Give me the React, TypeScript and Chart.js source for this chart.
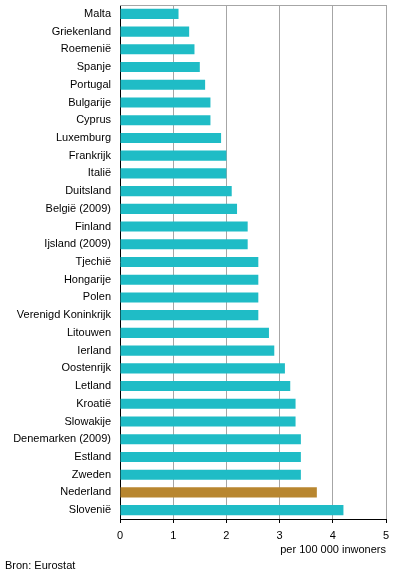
import React, { useEffect, useRef } from "react";
import { Chart, registerables } from "chart.js";

Chart.register(...registerables);

const categories = [
  "Malta", "Griekenland", "Roemenië", "Spanje", "Portugal", "Bulgarije", "Cyprus",
  "Luxemburg", "Frankrijk", "Italië", "Duitsland", "België (2009)", "Finland",
  "Ijsland (2009)", "Tjechië", "Hongarije", "Polen", "Verenigd Koninkrijk",
  "Litouwen", "Ierland", "Oostenrijk", "Letland", "Kroatië", "Slowakije",
  "Denemarken (2009)", "Estland", "Zweden", "Nederland", "Slovenië",
];
const values = [
  1.1, 1.3, 1.4, 1.5, 1.6, 1.7, 1.7, 1.9, 2.0, 2.0, 2.1, 2.2, 2.4, 2.4, 2.6,
  2.6, 2.6, 2.6, 2.8, 2.9, 3.1, 3.2, 3.3, 3.3, 3.4, 3.4, 3.4, 3.7, 4.2,
];
const highlight = "Nederland";
const xTicks = [0, 1, 2, 3, 4, 5];
const unitLabel = "per 100 000 inwoners";
const sourceLabel = "Bron: Eurostat";

const TEAL = "#1FBCC6";
const BROWN = "#B8862F";
const GRID = "#A6A6A6";
const FONT = "'Liberation Sans', Arial, sans-serif";

export default function App() {
  const ref = useRef<HTMLCanvasElement | null>(null);
  useEffect(() => {
    document.body.style.margin = "0";
    const canvas = ref.current;
    if (!canvas) return;
    const topLine = {
      id: "topLine",
      beforeDatasetsDraw(chart: any) {
        const { ctx, chartArea } = chart;
        ctx.save();
        ctx.strokeStyle = GRID;
        ctx.lineWidth = 1;
        ctx.beginPath();
        ctx.moveTo(chartArea.left, Math.round(chartArea.top) + 0.5);
        ctx.lineTo(chartArea.right, Math.round(chartArea.top) + 0.5);
        ctx.stroke();
        ctx.restore();
      },
    };
    const chart = new Chart(canvas, {
      type: "bar",
      data: {
        labels: categories,
        datasets: [
          {
            data: values,
            backgroundColor: categories.map((c) => (c === highlight ? BROWN : TEAL)),
            borderWidth: 0,
            categoryPercentage: 1,
            barPercentage: 0.57,
          },
        ],
      },
      options: {
        indexAxis: "y",
        animation: false,
        responsive: false,
        maintainAspectRatio: false,
        layout: { padding: { top: 5, right: 10, left: 0, bottom: 23 } },
        plugins: { legend: { display: false }, tooltip: { enabled: false } },
        scales: {
          x: {
            min: 0,
            max: 5,
            afterBuildTicks: (scale: any) => {
              scale.ticks = xTicks.map((v) => ({ value: v }));
            },
            afterFit: (scale: any) => {
              scale.height = 38;
              scale.paddingLeft = 0;
              scale.paddingRight = 0;
            },
            grid: { color: GRID, lineWidth: 1, tickLength: 4, drawTicks: true, tickColor: "#000" },
            border: { display: true, color: "#000", width: 1 },
            ticks: { color: "#000", font: { family: FONT, size: 11 }, padding: 6, maxRotation: 0 },
            title: {
              display: true,
              text: unitLabel,
              align: "end",
              color: "#000",
              font: { family: FONT, size: 11 },
              padding: { top: 1, bottom: 0 },
            },
          },
          y: {
            afterFit: (scale: any) => {
              scale.width = 120;
              scale.paddingTop = 0;
              scale.paddingBottom = 0;
            },
            grid: { display: false, drawTicks: false },
            border: { display: true, color: "#000", width: 1 },
            ticks: { color: "#000", font: { family: FONT, size: 11 }, padding: 9, autoSkip: false },
          },
        },
      },
      plugins: [topLine],
    });
    return () => chart.destroy();
  }, []);
  return (
    <div style={{ position: "relative", width: 396, height: 580, background: "#fff" }}>
      <canvas ref={ref} width={396} height={580} style={{ display: "block", width: 396, height: 580 }} />
      <div
        style={{
          position: "absolute",
          left: 5,
          top: 559,
          fontFamily: FONT,
          fontSize: 11,
          lineHeight: "13px",
          color: "#000",
        }}
      >
        {sourceLabel}
      </div>
    </div>
  );
}
